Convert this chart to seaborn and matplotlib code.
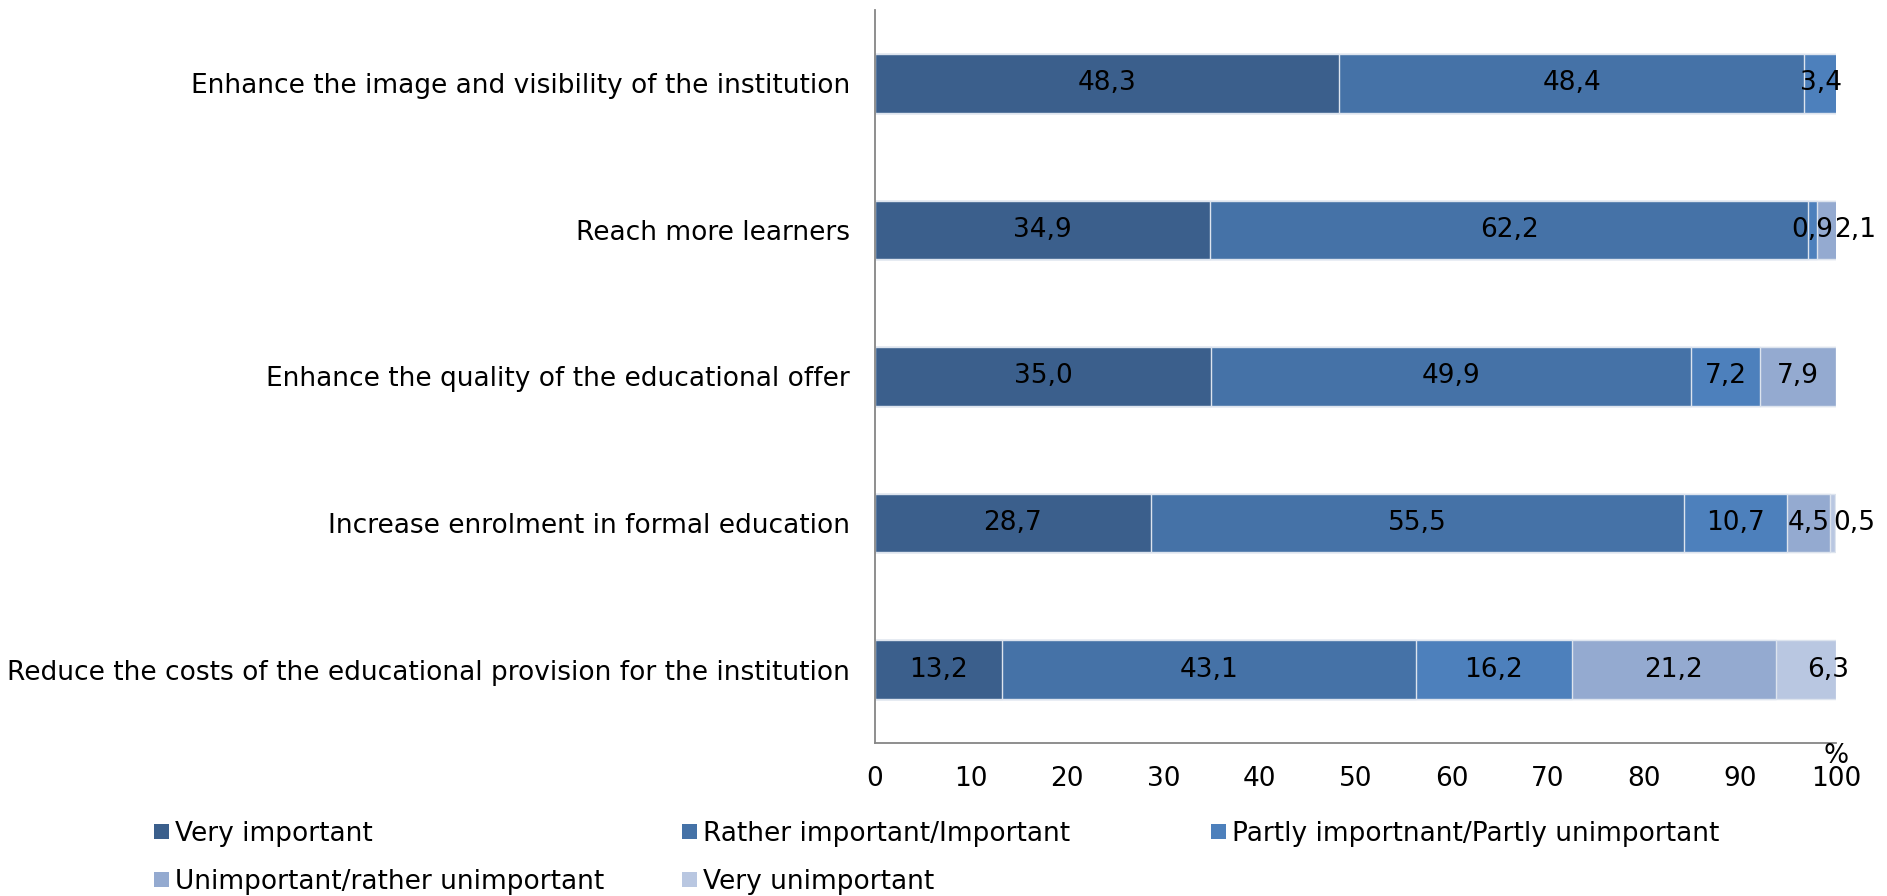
import numpy as np
import matplotlib
matplotlib.use("Agg")
import matplotlib.pyplot as plt
from matplotlib.patches import Patch
import seaborn as sns

# Data
categories = [
    "Enhance the image and visibility of the institution",
    "Reach more learners",
    "Enhance the quality of the educational offer",
    "Increase enrolment in formal education",
    "Reduce the costs of the educational provision for the institution",
]
series = [
    "Very important",
    "Rather important/Important",
    "Partly importnant/Partly unimportant",
    "Unimportant/rather unimportant",
    "Very unimportant",
]
very_important = [48.3, 34.9, 35.0, 28.7, 13.2]
rather_important = [48.4, 62.2, 49.9, 55.5, 43.1]
partly_important = [3.4, 0.9, 7.2, 10.7, 16.2]
unimportant = [0.0, 2.1, 7.9, 4.5, 21.2]
very_unimportant = [0.0, 0.0, 0.0, 0.5, 6.3]
x_ticks = [0, 10, 20, 30, 40, 50, 60, 70, 80, 90, 100]

colors = ["#3b5f8c", "#4572a7", "#4d80bc", "#94aad0", "#b9c7e1"]

values = np.array([very_important, rather_important, partly_important,
                   unimportant, very_unimportant]).T
cum = np.cumsum(values, axis=1)

FS = 19
sns.set_style("white")
plt.rcParams["font.family"] = ["DejaVu Sans"]
plt.rcParams["text.color"] = "black"

fig = plt.figure(figsize=(18.87, 8.96), dpi=100)
ax = fig.add_axes([0.4637, 0.171, 0.973 - 0.4637, 0.9888 - 0.171])

# stacked bars: draw cumulative totals from the last series backwards
for i in range(len(series) - 1, -1, -1):
    sns.barplot(x=cum[:, i], y=categories, order=categories, orient="h",
                color=colors[i], width=0.4, edgecolor="#dde4ee", linewidth=1,
                saturation=1, ax=ax)

# value labels; the crowded ones at the right end are pushed out like the original
nudge = {(1, 3): 2.95, (3, 4): 2.25, (4, 4): 2.3}
for r in range(len(categories)):
    for c in range(len(series)):
        v = values[r, c]
        if v <= 0:
            continue
        xc = cum[r, c] - v / 2 + nudge.get((r, c), 0)
        ax.text(xc, r, f"{v:.1f}".replace(".", ","), ha="center", va="center",
                fontsize=FS, color="black")

ax.set_xlim(0, 100)
ax.set_ylim(len(categories) - 0.5, -0.5)
ax.set_xticks(x_ticks)
ax.set_xticklabels([str(t) for t in x_ticks], fontsize=FS)
ax.set_yticks(range(len(categories)))
ax.set_yticklabels(categories, fontsize=FS)
ax.set_yticks(np.arange(-0.5, len(categories)), minor=True)
ax.tick_params(axis="y", which="major", length=0, pad=18, labelcolor="black")
ax.tick_params(axis="y", which="minor", length=5, width=1.3, color="#868686")
ax.tick_params(axis="x", which="major", length=5, width=1.3, color="#868686", pad=12,
               labelcolor="black")
ax.set_xlabel("")
ax.set_ylabel("")

for s in ["top", "right"]:
    ax.spines[s].set_visible(False)
for s in ["left", "bottom"]:
    ax.spines[s].set_color("#868686")
    ax.spines[s].set_linewidth(1.3)

ax.annotate("%", xy=(1.0, 0), xycoords="axes fraction", xytext=(0, -0.5),
            textcoords="offset points", ha="center", va="top", fontsize=FS)

# legend laid out on a fixed grid, row by row
for k, (name, col) in enumerate(zip(series, colors)):
    row, column = divmod(k, 3)
    fig.legend(handles=[Patch(facecolor=col, edgecolor="none")], labels=[name],
               loc="center left",
               bbox_to_anchor=(0.0816 + 0.280 * column, 0.0692 - 0.0536 * row),
               frameon=False, handlelength=0.57, handleheight=0.5, handletextpad=0.23,
               borderpad=0, borderaxespad=0, prop={"size": FS}, labelcolor="black")

fig.savefig("out.png", dpi=100)
